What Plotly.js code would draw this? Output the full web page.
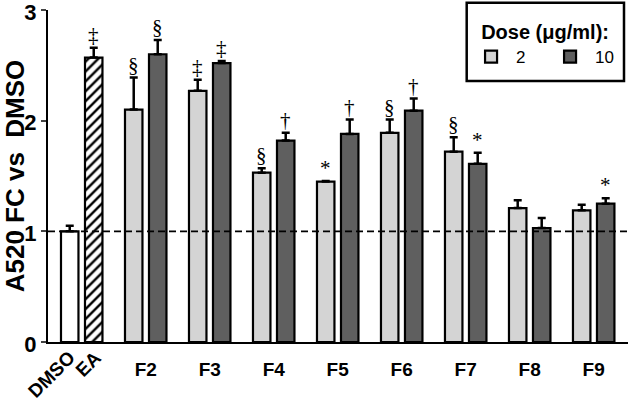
<!DOCTYPE html>
<html><head><meta charset="utf-8">
<script src="https://cdn.plot.ly/plotly-3.0.1.min.js"></script>
<style>html,body{margin:0;padding:0;background:#fff}#chart{width:630px;height:403px}</style>
</head><body><div id="chart"></div><script>
// ---- data ----
const controlLabels = ["DMSO", "EA"];
const controlValues = [1.00, 2.57];
const controlErrors = [0.05, 0.09];
const controlMarks = ["", "‡"];

const fractions = ["F2", "F3", "F4", "F5", "F6", "F7", "F8", "F9"];
const dose2Values = [2.10, 2.27, 1.53, 1.45, 1.89, 1.72, 1.21, 1.19];
const dose2Errors = [0.29, 0.10, 0.04, 0.005, 0.12, 0.13, 0.07, 0.05];
const dose2Marks = ["§", "‡", "§", "*", "§", "§", "", ""];
const dose10Values = [2.60, 2.52, 1.82, 1.88, 2.09, 1.61, 1.03, 1.25];
const dose10Errors = [0.13, 0.02, 0.07, 0.13, 0.11, 0.10, 0.09, 0.05];
const dose10Marks = ["§", "‡", "†", "†", "†", "*", "", "*"];
const doseNames = ["2", "10"];

// ---- layout constants ----
const OFF = 0.1875, BW = 0.273;
const groupPos = fractions.map((f, i) => i + 2);
const ctrlPos = [1 - OFF, 1 + OFF];
const pos2 = groupPos.map(p => p - OFF);
const pos10 = groupPos.map(p => p + OFF);
const FONT = "Liberation Sans, Arial, sans-serif";
const LINE = {color: "black", width: 2.2};
function err(a) { return {type: "data", array: a, arrayminus: a.map(() => 0), symmetric: false,
  color: "black", thickness: 2.5, width: 4}; }

const traces = [
  {type: "bar", x: ctrlPos, y: controlValues, width: BW, showlegend: false,
   marker: {color: "white", line: LINE,
            pattern: {shape: ["", "/"], fgcolor: "black", bgcolor: "white", size: 7, solidity: 0.35}},
   error_y: err(controlErrors), hoverinfo: "skip"},
  {type: "bar", name: doseNames[0], x: pos2, y: dose2Values, width: BW,
   marker: {color: "#d4d4d4", line: LINE}, error_y: err(dose2Errors)},
  {type: "bar", name: doseNames[1], x: pos10, y: dose10Values, width: BW,
   marker: {color: "#5f5f5f", line: LINE}, error_y: err(dose10Errors)}
];

const annotations = [];
function addMarks(xs, vals, errs, marks) {
  marks.forEach((m, i) => {
    if (!m) return;
    annotations.push({x: xs[i], y: vals[i] + errs[i], text: m, showarrow: false,
      yanchor: "bottom", yshift: -1,
      font: {family: "Liberation Serif, Times New Roman, serif", size: 21, color: "#000000"}});
  });
}
addMarks(ctrlPos, controlValues, controlErrors, controlMarks);
addMarks(pos2, dose2Values, dose2Errors, dose2Marks);
addMarks(pos10, dose10Values, dose10Errors, dose10Marks);

const ctrlShift = [12, 15];
controlLabels.forEach((t, i) => {
  annotations.push({x: ctrlPos[i], y: 0, text: t, showarrow: false, textangle: -45,
    xanchor: "right", yanchor: "top", xshift: ctrlShift[i], yshift: -2,
    font: {family: FONT, size: 19, color: "black", weight: "bold"}});
});

const layout = {
  width: 630, height: 403,
  margin: {l: 48, r: 2, t: 10, b: 61},
  paper_bgcolor: "white", plot_bgcolor: "white",
  barmode: "overlay",
  font: {family: FONT, color: "black"},
  xaxis: {range: [0.473, 9.536], showline: true, linecolor: "black", linewidth: 2,
          showgrid: false, zeroline: false, ticks: "", tickmode: "array",
          tickvals: groupPos, ticktext: fractions, ticklabelstandoff: 9,
          tickfont: {family: FONT, size: 19, color: "black", weight: "bold"}},
  yaxis: {range: [0, 3], tickmode: "array", tickvals: [0, 1, 2, 3], ticks: "outside",
          ticklen: 5, tickwidth: 2, showline: true, linecolor: "black", linewidth: 2,
          showgrid: false, zeroline: false, ticklabeloverflow: "allow", ticklabelshift: 2,
          tickfont: {family: FONT, size: 22, color: "black", weight: "bold"},
          title: {text: "A520 FC vs\u00a0\u00a0DMSO", standoff: 3,
                  font: {family: FONT, size: 26, color: "black", weight: "bold"}}},
  legend: {x: 0.857, xanchor: "center", y: 0.991, yanchor: "top", orientation: "h",
           bgcolor: "rgba(0,0,0,0)", borderwidth: 0,
           itemwidth: 40, entrywidth: 24,
           font: {family: FONT, size: 17, color: "black"},
           title: {text: "Dose (μg/ml):", side: "top center",
                   font: {family: FONT, size: 20, color: "black", weight: "bold"}}},
  shapes: [{type: "line", xref: "paper", x0: 0, x1: 1, yref: "y", y0: 1, y1: 1, layer: "above",
            line: {color: "black", width: 1.8, dash: "7px,4px"}},
           {type: "rect", xref: "paper", yref: "paper", x0: 0.7219, x1: 0.9931, y0: 0.786, y1: 1.022,
            layer: "below", fillcolor: "white", line: {color: "black", width: 2.5}}],
  annotations: annotations
};
Plotly.newPlot("chart", traces, layout, {staticPlot: true, displayModeBar: false});
</script></body></html>
